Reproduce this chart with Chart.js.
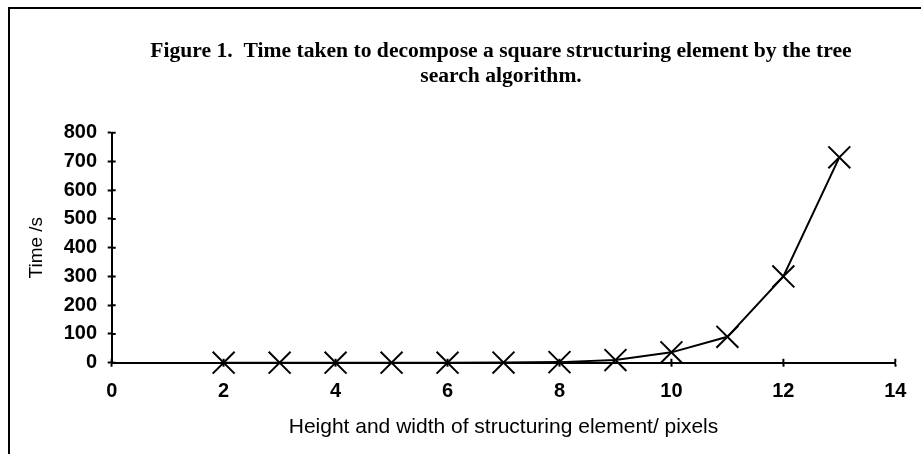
<!DOCTYPE html>
<html><head><meta charset="utf-8">
<script src="https://cdn.jsdelivr.net/npm/chart.js@4"></script>
<style>html,body{margin:0;padding:0;background:#fff}#wrap{width:921px;height:454px;position:relative}</style>
</head><body><div id="wrap"><canvas id="c"></canvas></div>
<script>
const sizes = [2, 3, 4, 5, 6, 7, 8, 9, 10, 11, 12, 13];
const times = [0, 0, 0, 0, 0.1, 0.5, 2, 9, 36, 90, 300, 714];
const xTicks = [0, 2, 4, 6, 8, 10, 12, 14];
const yTicks = [0, 100, 200, 300, 400, 500, 600, 700, 800];
const titleLines = ['Figure 1.  Time taken to decompose a square structuring element by the tree', 'search algorithm.'];
const xTitle = 'Height and width of structuring element/ pixels';
const yTitle = 'Time /s';

const SANS = '"Liberation Sans", Arial, sans-serif';
const SERIF = '"Liberation Serif", "Times New Roman", serif';

const framePlugin = {
  id: 'frame',
  afterLayout(chart) {
    const t = chart.titleBlock, a = chart.chartArea;
    if (t) { t.left = a.left - 5; t.right = a.right; t.width = t.right - t.left; }
  },
  beforeDraw(chart) {
    const ctx = chart.ctx;
    ctx.save();
    ctx.strokeStyle = '#000';
    ctx.lineWidth = 2;
    ctx.beginPath();
    ctx.moveTo(921, 8);
    ctx.lineTo(9, 8);
    ctx.lineTo(9, 454);
    ctx.stroke();
    ctx.restore();
  }
};

const innerTicks = {
  id: 'innerTicks',
  afterDatasetsDraw(chart) {
    const ctx = chart.ctx;
    const xs = chart.scales.x, ys = chart.scales.y;
    const area = chart.chartArea;
    ctx.save();
    ctx.strokeStyle = '#000';
    ctx.lineWidth = 2;
    ctx.beginPath();
    ys.ticks.forEach(t => {
      const py = ys.getPixelForValue(t.value);
      ctx.moveTo(area.left, py);
      ctx.lineTo(area.left + 4, py);
    });
    xs.ticks.forEach(t => {
      const px = xs.getPixelForValue(t.value);
      ctx.moveTo(px, area.bottom);
      ctx.lineTo(px, area.bottom - 4);
    });
    ctx.stroke();
    ctx.restore();
  }
};

new Chart(document.getElementById('c'), {
  type: 'line',
  data: {
    datasets: [{
      data: sizes.map((s, i) => ({x: s, y: times[i]})),
      borderColor: '#000',
      borderWidth: 2,
      pointStyle: 'crossRot',
      pointRadius: 15.5,
      pointBorderWidth: 2,
      pointBorderColor: '#000',
      pointBackgroundColor: '#000',
      tension: 0,
      fill: false,
      clip: false
    }]
  },
  options: {
    responsive: true,
    maintainAspectRatio: false,
    animation: false,
    events: [],
    layout: {padding: {left: 10, right: 25.7, top: 0, bottom: 0}},
    plugins: {
      legend: {display: false},
      tooltip: {enabled: false},
      title: {
        display: true,
        text: titleLines,
        color: '#000',
        font: {family: SERIF, size: 21.6, weight: 'bold', lineHeight: 1.2},
        padding: {top: 38, bottom: 42.8}
      }
    },
    scales: {
      x: {
        type: 'linear',
        min: 0, max: 14,
        afterBuildTicks(scale) { scale.ticks = xTicks.map(v => ({value: v})); },
        afterFit(scale) { scale.height = 91.3; },
        border: {display: true, color: '#000', width: 2},
        grid: {display: true, drawOnChartArea: false, drawTicks: true, tickLength: 4, tickWidth: 2, tickColor: '#000'},
        ticks: {color: '#000', padding: 12.6, maxRotation: 0, font: {family: SANS, size: 20, weight: 'bold'}},
        title: {display: true, text: xTitle, color: '#000', font: {family: SANS, size: 21}, padding: {top: 0, bottom: 14}}
      },
      y: {
        type: 'linear',
        min: 0, max: 800,
        afterBuildTicks(scale) { scale.ticks = yTicks.map(v => ({value: v})); },
        afterFit(scale) { scale.width = 101.7; },
        border: {display: true, color: '#000', width: 2},
        grid: {display: true, drawOnChartArea: false, drawTicks: true, tickLength: 4, tickWidth: 2, tickColor: '#000'},
        ticks: {color: '#000', padding: 10.7, font: {family: SANS, size: 20, weight: 'bold'}},
        title: {display: true, text: yTitle, color: '#000', font: {family: SANS, size: 19}, padding: {top: 15.6, bottom: 0}}
      }
    }
  },
  plugins: [framePlugin, innerTicks]
});
</script>
</body></html>
